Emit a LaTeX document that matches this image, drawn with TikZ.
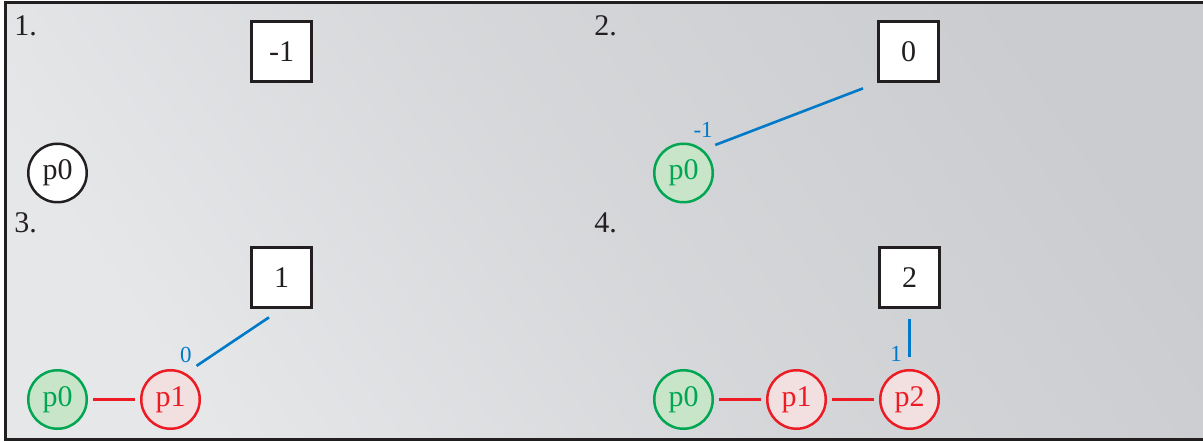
\documentclass[tikz,border=0pt]{standalone}
\usepackage{fontspec}
\setmainfont{Liberation Serif}
\usepackage{tikz}
\usetikzlibrary{positioning, calc}
\definecolor{inkblack}{RGB}{35,31,32}
\definecolor{listgreen}{RGB}{0,166,81}
\definecolor{listgreenfill}{RGB}{200,229,202}
\definecolor{listred}{RGB}{237,28,36}
\definecolor{listredfill}{RGB}{242,224,225}
\definecolor{ptrblue}{RGB}{0,122,200}
\definecolor{bglight}{RGB}{230,231,233}
\definecolor{bgdark}{RGB}{203,204,207}

\begin{document}
\begin{tikzpicture}[
    x=0.5pt, y=-0.5pt,
    node distance=26pt,
    every node/.style={font=\fontsize{15}{17}\selectfont, text=inkblack},
    stage/.style={anchor=base west, inner sep=0pt},
    headbox/.style={rectangle, draw=inkblack, fill=white, line width=1.5pt, minimum size=30pt, inner sep=0pt},
    plain/.style={circle, draw=inkblack, fill=white, line width=1.25pt, minimum size=29.25pt, inner sep=0pt},
    done/.style={circle, draw=listgreen, fill=listgreenfill, text=listgreen, line width=1.25pt, minimum size=29.25pt, inner sep=0pt},
    fresh/.style={circle, draw=listred, fill=listredfill, text=listred, line width=1.25pt, minimum size=29.25pt, inner sep=0pt},
    link/.style={draw=listred, line width=1.2pt, shorten <=2.5pt, shorten >=2.5pt},
    ptr/.style={draw=ptrblue, line width=1.3pt, shorten <=6.5pt, shorten >=7.5pt},
    lbl/.style={font=\fontsize{11.5}{13}\selectfont, text=ptrblue, inner sep=1pt},
]
\useasboundingbox (0,0) rectangle (1203,442);

% background and frame
\shade[top color=bgdark, bottom color=bglight, middle color=bgdark!60!bglight, shading angle=-55] (5,3) rectangle (1215,440);
\draw[inkblack, line width=1.5pt] (5,3) rectangle (1215,440);

% 1.
\node[stage] (t1) at (14,36) {1.};
\node[headbox] (b1) at (281.5,51.5) {-1};
\node[plain] (s1p0) at (57.5,173) {p0};

% 2.
\node[stage] (t2) at (594,36) {2.};
\node[headbox] (b2) at (908.5,51.5) {0};
\node[done] (s2p0) at (683.5,173) {p0};

% 3.
\node[stage] (t3) at (14,233) {3.};
\node[headbox] (b3) at (281.5,277.5) {1};
\node[done] (s3p0) at (57.5,399.5) {p0};
\node[fresh, right=of s3p0] (s3p1) {p1};

% 4.
\node[stage] (t4) at (594,233) {4.};
\node[headbox] (b4) at (909.5,277.5) {2};
\node[done] (s4p0) at (683.5,399.5) {p0};
\node[fresh, right=of s4p0] (s4p1) {p1};
\node[fresh, right=of s4p1] (s4p2) {p2};

% links
\draw[link] (s3p0) -- (s3p1);
\draw[link] (s4p0) -- (s4p1);
\draw[link] (s4p1) -- (s4p2);

% pointers
\draw[ptr] (s2p0.50) -- node[lbl, at start, above=4.5pt] {-1} (b2.south west);
\draw[ptr] (s3p1.60) -- node[lbl, at start, above=3.5pt] {0} (b3.south);
\draw[ptr, shorten <=6pt, shorten >=5pt] (s4p2.north) -- node[lbl, at start, above left=3pt] {1} (s4p2.north |- b4.south);

\end{tikzpicture}
\end{document}
